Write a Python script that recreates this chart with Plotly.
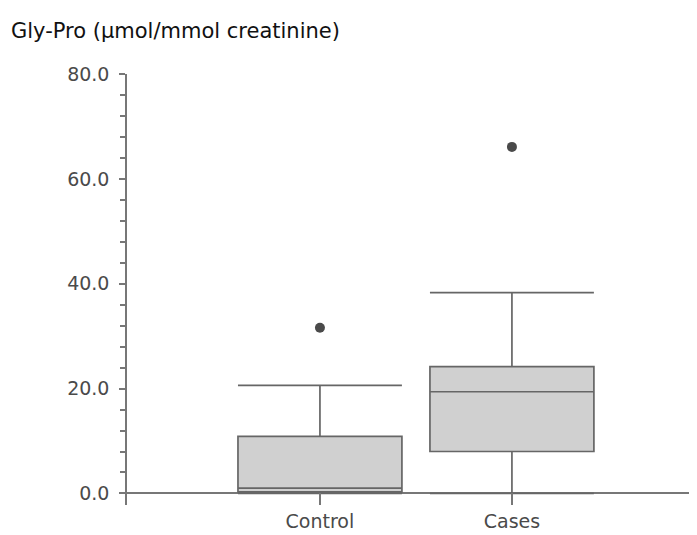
import plotly.graph_objects as go

categories = ["Control", "Cases"]
lower_fence = [0.0, 0.0]
q1_vals = [0.3, 8.0]
median_vals = [1.0, 19.4]
q3_vals = [10.9, 24.2]
upper_fence = [20.6, 38.3]
outlier_vals = [31.6, 66.1]
y_tick_vals = [0, 20, 40, 60, 80]
title_text = "Gly-Pro (µmol/mmol creatinine)"

FONT = "DejaVu Sans"
# the page body has an 8px margin, so the figure is drawn 8px right/down
OFF = 8
W, H = 697 - OFF, 535 - OFF

fig = go.Figure()
fig.add_trace(go.Box(
    x=categories,
    q1=q1_vals, median=median_vals, q3=q3_vals,
    lowerfence=lower_fence, upperfence=upper_fence,
    width=0.854, whiskerwidth=1,
    fillcolor="#d0d0d0",
    line=dict(color="#666666", width=1.7),
    boxpoints=False, showlegend=False, hoverinfo="skip",
))
fig.add_trace(go.Scatter(
    x=categories, y=outlier_vals, mode="markers",
    marker=dict(color="#4a4a4a", size=10),
    showlegend=False, hoverinfo="skip",
))

fig.update_layout(
    width=W, height=H,
    margin=dict(l=127 - OFF, r=0, t=74 - OFF, b=29.5, autoexpand=False),
    paper_bgcolor="white", plot_bgcolor="white",
    font=dict(family=FONT, size=19, color="#4a4a4a"),
    title=dict(text=title_text, xref="container", yref="container",
               x=(11 - OFF) / W, xanchor="left", y=1 - (31 - OFF) / H, yanchor="middle",
               font=dict(family=FONT, size=21, color="#111111")),
)
fig.update_yaxes(
    range=[-2.2, 80], tickvals=y_tick_vals, tickformat=".1f",
    showgrid=False, showline=True, linecolor="#777777", linewidth=1.5,
    ticks="outside", ticklen=6, tickcolor="#777777", tickwidth=1.5,
    minor=dict(dtick=4, ticks="outside", ticklen=5, tickcolor="#777777", tickwidth=1.5, showgrid=False),
    zeroline=True, zerolinecolor="#777777", zerolinewidth=1.5,
    ticklabelstandoff=6,
    tickfont=dict(family=FONT, size=19, color="#4a4a4a"),
)
fig.update_xaxes(
    type="category", range=[-1.005, 1.964],
    showgrid=False, showline=False, zeroline=False,
    ticks="inside", ticklen=12, tickcolor="#777777", tickwidth=1.5,
    ticklabelstandoff=3,
    tickfont=dict(family=FONT, size=19, color="#4a4a4a"),
)
fig.write_html("out.html")
